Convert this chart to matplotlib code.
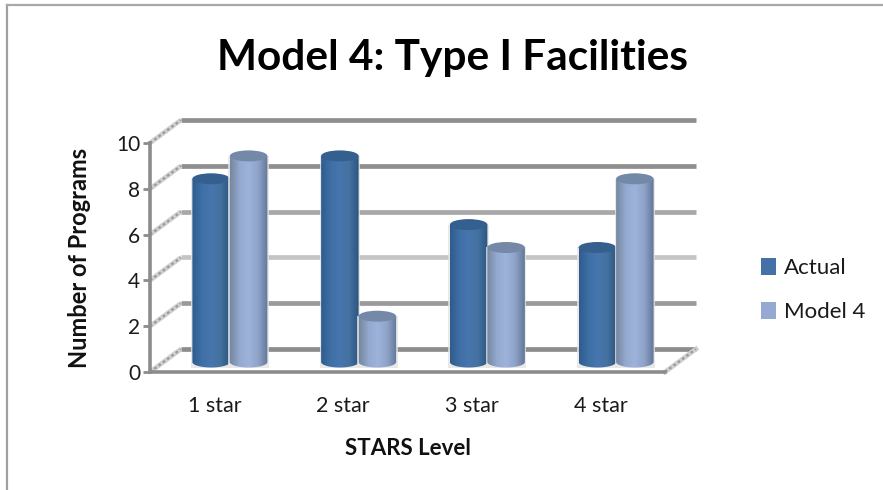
"""Model 4 vs actual STARS levels, drawn like an Excel 3D cylinder chart."""

import numpy as np
import matplotlib

matplotlib.use("Agg")
import matplotlib.pyplot as plt
from matplotlib.colors import LinearSegmentedColormap
from matplotlib.patches import Ellipse, Patch, PathPatch, Rectangle
from matplotlib.path import Path

categories = ["1 star", "2 star", "3 star", "4 star"]
actual = [8, 9, 6, 5]
model_4 = [9, 2, 5, 8]
y_ticks = [0, 2, 4, 6, 8, 10]
grid_colors = ["#8c8c8c", "#9a9a9a", "#c4c4c4", "#a8a8a8", "#8f8f8f", "#8e8e8e"]

W, H = 883, 490
plt.rcParams["font.family"] = ["Lato", "DejaVu Sans"]

fig = plt.figure(figsize=(W / 100, H / 100), dpi=100)
fig.patch.set_facecolor("white")

# front plane of the 3D box, in pixels of the reference
ax = fig.add_axes([150 / W, 1 - 372 / H, 515 / W, 229 / H])
ax.set_xlim(0, 4)
ax.set_ylim(0, 10)
ax.set_facecolor("none")
for side in ["top", "right"]:
    ax.spines[side].set_visible(False)
for side in ["left", "bottom"]:
    ax.spines[side].set_color("#8c8c8c")
    ax.spines[side].set_linewidth(2.6)

ax.set_xticks(np.arange(4) + 0.5)
ax.set_xticklabels(categories, fontsize=15.5, color="#1a1a1a")
ax.set_yticks(y_ticks)
ax.set_yticklabels(y_ticks, fontsize=15, color="#1a1a1a")
ax.tick_params(axis="x", length=0, pad=17)
ax.tick_params(axis="y", length=5, width=2, color="#8c8c8c", pad=2)
ax.set_xlabel("STARS Level", fontsize=16, fontweight="bold", labelpad=16, color="#111111")
ax.set_ylabel("Number of Programs", fontsize=17, fontweight="bold", labelpad=18, color="#111111")

# depth of the box expressed in data units
depth_x = 31 / (515 / 4)
depth_y = 23 / (229 / 10)

for v, c in zip(y_ticks, grid_colors):
    ax.plot([depth_x, 4 + depth_x], [v + depth_y] * 2, color=c, lw=3.4,
            solid_capstyle="butt", clip_on=False, zorder=1)
    ax.plot([0, depth_x], [v, v + depth_y], color="#d0d0d0", lw=3.4,
            solid_capstyle="butt", clip_on=False, zorder=1)
    ax.plot([0, depth_x], [v, v + depth_y], color="#9a9a9a", lw=1.6,
            ls=(0, (1.2, 1.2)), clip_on=False, zorder=1.1)
ax.plot([4, 4 + depth_x], [0, depth_y], color="#d0d0d0", lw=3.4, clip_on=False, zorder=1)
ax.plot([4, 4 + depth_x], [0, depth_y], color="#9a9a9a", lw=1.6,
        ls=(0, (1.2, 1.2)), clip_on=False, zorder=1.1)

dark_cmap = LinearSegmentedColormap.from_list(
    "actual", ["#2f5c8f", "#3e6fa5", "#4776ae", "#44719f", "#2c5682"])
light_cmap = LinearSegmentedColormap.from_list(
    "model", ["#76879f", "#93a9cf", "#9db3db", "#8fa3c8", "#62789b"])
gradient = np.linspace(0, 1, 64).reshape(1, -1)

bar_w = 37.5 / (515 / 4)
base_y = 10 / (229 / 10)
ell_h = 11 / (229 / 10)
mid_x = depth_x / 2


def draw_cylinder(x0, value, cmap, top_color, z):
    """One cylinder whose left edge is at x0, rising to value."""
    top = value + base_y
    ts = np.linspace(np.pi, 2 * np.pi, 40)
    lower_x = x0 + bar_w / 2 + np.cos(ts) * bar_w / 2
    lower_y = base_y + np.sin(ts) * ell_h / 2
    verts = np.vstack([[[x0, top]], np.column_stack([lower_x, lower_y]), [[x0 + bar_w, top]], [[x0, top]]])
    clip = PathPatch(Path(verts), transform=ax.transData, fc="none", ec="none")
    ax.add_patch(clip)
    # soft pale halo next to the cylinder
    ax.add_patch(Rectangle((x0 - 0.012, base_y - ell_h / 2), bar_w + 0.024, value + ell_h / 2,
                           fc="#e4e4e4", ec="none", alpha=0.8, clip_on=False, zorder=z - 0.1))
    im = ax.imshow(gradient, cmap=cmap, aspect="auto", zorder=z, interpolation="bilinear",
                   extent=[x0, x0 + bar_w, base_y - ell_h, top])
    im.set_clip_path(clip)
    ax.add_patch(Ellipse((x0 + bar_w / 2, top), bar_w, ell_h, fc=top_color, ec="none",
                         clip_on=False, zorder=z + 0.1))


for i in range(len(categories)):
    left = i + 0.5 + mid_x - bar_w
    draw_cylinder(left, actual[i], dark_cmap, "#345f8e", 3 + i)
    draw_cylinder(left + bar_w, model_4[i], light_cmap, "#7488a8", 3.5 + i)

# imshow resets nothing we want, but keep the limits explicit
ax.set_xlim(0, 4)
ax.set_ylim(0, 10)

fig.text(452 / W, 1 - 58 / H, "Model 4: Type I Facilities", fontsize=30.5, fontweight="bold",
         ha="center", va="center", color="#000000")

handles = [Patch(fc="#4472a8", ec="none", label="Actual"),
           Patch(fc="#96a9d2", ec="none", label="Model 4")]
fig.legend(handles=handles, loc="center left", bbox_to_anchor=(752 / W, 1 - 290 / H), frameon=False,
           fontsize=16, handlelength=0.68, handleheight=0.8, handletextpad=0.35, labelspacing=1.05,
           borderpad=0.4, borderaxespad=0, labelcolor="#1a1a1a")

# chart area border, only partly inside the crop
fig.add_artist(plt.Line2D([7 / W, 7 / W], [0, 1 - 5 / H], color="#a0a0a0", lw=1.6))
fig.add_artist(plt.Line2D([7 / W, 1], [1 - 5 / H] * 2, color="#a8a8a8", lw=1.6))

fig.savefig("out.png", dpi=100)
